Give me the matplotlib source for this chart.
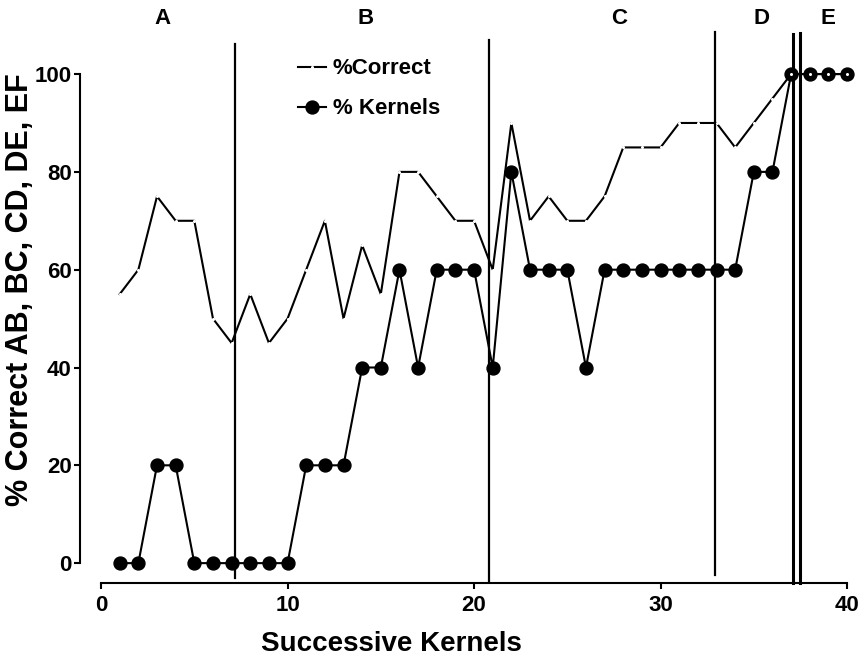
import matplotlib
matplotlib.use("Agg")
import matplotlib.pyplot as plt

plt.rcParams["font.family"] = ["Liberation Sans", "DejaVu Sans"]
plt.rcParams["font.weight"] = "bold"

# successive kernels
kernels = list(range(1, 41))
pct_correct = [55, 60, 75, 70, 70, 50, 45, 55, 45, 50,
               60, 70, 50, 65, 55, 80, 80, 75, 70, 70,
               60, 90, 70, 75, 70, 70, 75, 85, 85, 85,
               90, 90, 90, 85, 90, 95, 100, 100, 100, 100]
pct_kernels = [0, 0, 20, 20, 0, 0, 0, 0, 0, 0,
               20, 20, 20, 40, 40, 60, 40, 60, 60, 60,
               40, 80, 60, 60, 60, 40, 60, 60, 60, 60,
               60, 60, 60, 60, 80, 80, 100, 100, 100, 100]

# phase boundaries (x, y bottom, y top, line width)
boundaries = [(7.2, -3.1, 106.2, 1.6),
              (20.8, -3.6, 107.0, 1.6),
              (32.9, -2.5, 108.7, 1.6),
              (37.1, -4.0, 108.2, 2.2),
              (37.5, -4.0, 108.4, 2.2)]
phase_names = ["A", "B", "C", "D", "E"]
phase_x = [3.3, 14.2, 27.8, 35.4, 39.0]

fig = plt.figure(figsize=(8.62, 6.57), dpi=100)
ax = fig.add_axes([0.0928, 0.1131, 0.9115, 0.8486])

for x, y0, y1, lw in boundaries:
    ax.plot([x, x], [y0, y1], color="black", lw=lw, clip_on=False, zorder=2)

ax.plot(kernels, pct_kernels, color="black", lw=1.5, marker="o",
        markersize=9.3, label="% Kernels", zorder=3, clip_on=False)
ax.plot(kernels, pct_correct, color="black", lw=1.5, marker="o",
        markersize=2.2, markerfacecolor="white", markeredgecolor="none",
        label="%Correct", zorder=4, clip_on=False)

for name, x in zip(phase_names, phase_x):
    ax.text(x, 111.3, name, ha="center", va="center", fontsize=16,
            fontweight="bold", clip_on=False)

ax.set_xlim(-1.13, 41)
ax.set_ylim(-4.0, 110)
ax.spines["top"].set_visible(False)
ax.spines["right"].set_visible(False)
ax.spines["left"].set_bounds(0, 100)
ax.spines["bottom"].set_bounds(0, 40)
for s in ("left", "bottom"):
    ax.spines[s].set_linewidth(1.5)
ax.set_xticks([0, 10, 20, 30, 40])
ax.set_yticks([0, 20, 40, 60, 80, 100])
ax.tick_params(direction="out", length=4, width=1.5, labelsize=16)
ax.tick_params(axis="x", pad=5)
ax.tick_params(axis="y", pad=2)
for lbl in ax.get_xticklabels() + ax.get_yticklabels():
    lbl.set_fontweight("bold")

ax.set_xlabel("Successive Kernels", fontsize=20, fontweight="bold")
ax.xaxis.set_label_coords(0.396, -0.086)
ax.set_ylabel("% Correct AB, BC, CD, DE, EF", fontsize=22, fontweight="bold")
ax.yaxis.set_label_coords(-0.057, 0.526)

handles, labels = ax.get_legend_handles_labels()
leg = ax.legend(handles[::-1], labels[::-1], loc="upper left",
                bbox_to_anchor=(0.333, 0.928), bbox_transform=fig.transFigure,
                frameon=False, fontsize=16, handlelength=1.25, handletextpad=0.3,
                labelspacing=0.85, borderpad=0, numpoints=1)
for t in leg.get_texts():
    t.set_fontweight("bold")

fig.savefig("out.png", dpi=100)
